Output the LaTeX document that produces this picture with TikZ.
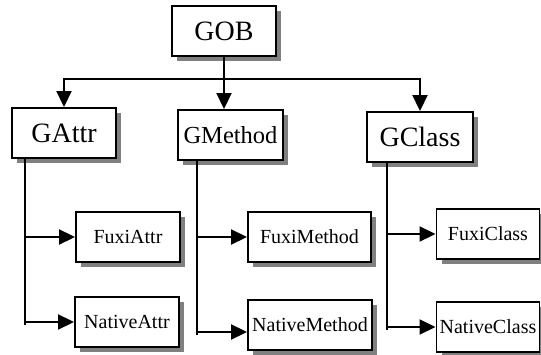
\documentclass[tikz,border=0pt]{standalone}
\usepackage{fontspec}
\setmainfont{Liberation Serif}
\usetikzlibrary{arrows.meta,shadows}

\tikzset{
  box/.style={draw, line width=1.9pt, fill=white, minimum height=50pt, inner sep=0pt,
    drop shadow={shadow xshift=5pt, shadow yshift=-5pt, fill=black!50, opacity=1}},
  big/.style={box, font=\fontsize{28}{32}\selectfont},
  small/.style={box, font=\fontsize{20}{24}\selectfont},
  wire/.style={line width=1.9pt},
  arr/.style={wire, -{Triangle[length=16pt,width=15pt]}}
}

\begin{document}
\begin{tikzpicture}[x=1pt,y=-1pt]
    \useasboundingbox (0,0) rectangle (541,355);
    \node[big, minimum width=104pt](gob)at (224,31){GOB};
    \node[big, minimum width=104pt](gattr)at (64,133){GAttr};
    \node[big, minimum width=105pt, font=\fontsize{24.5}{28}\selectfont](gmethod)at (230.5,135){GMethod};
    \node[big, minimum width=106pt](gclass)at (420,137){GClass};
    \node[small, minimum width=104pt](fattr)at (128,237){FuxiAttr};
    \node[small, minimum width=104pt](nattr)at (127,322){NativeAttr};
    \node[small, minimum width=123pt](fmethod)at (309.5,237){FuxiMethod};
    \node[small, minimum width=124pt](nmethod)at (310,325){NativeMethod};
    \node[small, minimum width=103pt](fclass)at (488,234){FuxiClass};
    \node[small, minimum width=103pt](nclass)at (488,327){NativeClass};
    \coordinate(bus)at (0,79);
    \draw[arr](gob.south |- bus)-|(gattr.north);
    \draw[arr](gob.south |- bus)-|(gclass.north);
    \draw[arr](gob.south)--(gob.south |- gmethod.north);
    \coordinate(ta)at ([xshift=14pt]gattr.south west);
    \draw[wire](ta)--([yshift=-3pt]ta |- nattr);
    \draw[arr](ta |- fattr)--(fattr);
    \draw[arr](ta |- nattr)--(nattr);
    \coordinate(tm)at ([xshift=20pt]gmethod.south west);
    \coordinate(nm)at ([yshift=-7pt]nmethod.west);
    \draw[wire](tm)--([yshift=-3pt]tm |- nm);
    \draw[arr](tm |- fmethod)--(fmethod);
    \draw[arr](tm |- nm)--(nm);
    \coordinate(tc)at ([xshift=21pt]gclass.south west);
    \draw[wire](tc)--([yshift=-3pt]tc |- nclass);
    \draw[arr](tc |- fclass)--(fclass);
    \draw[arr](tc |- nclass)--(nclass);
\end{tikzpicture}
\end{document}
